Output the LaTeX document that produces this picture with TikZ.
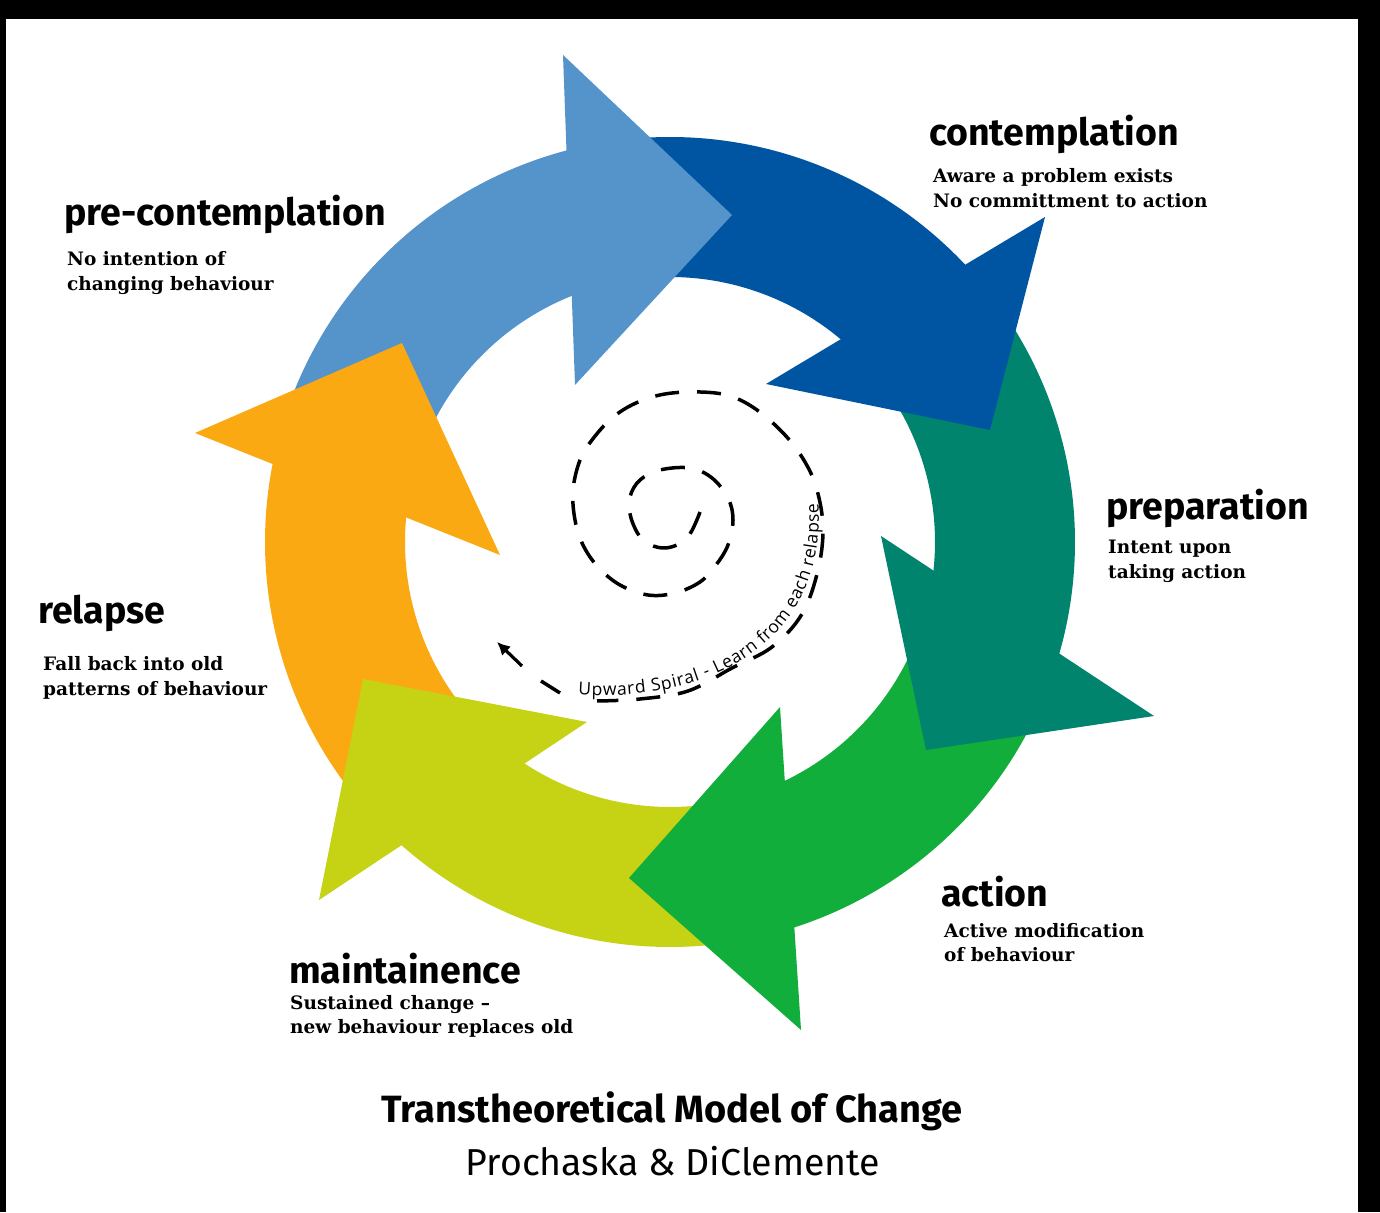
\documentclass[tikz,border=0pt]{standalone}
\usepackage{fontspec}
\setmainfont{DejaVu Serif}
\newfontfamily\headfont{Fira Sans}
\newfontfamily\spiralfont{Open Sans}
\usetikzlibrary{calc,decorations.text,arrows.meta}
\definecolor{lblue}{HTML}{5593CB}
\definecolor{dblue}{HTML}{0055A2}
\definecolor{tealc}{HTML}{00846E}
\definecolor{greenc}{HTML}{12AE3C}
\definecolor{limec}{HTML}{C6D214}
\definecolor{orangec}{HTML}{FBA913}
\newcommand\ringseg[3]{\fill[#1] ($(C)+(#2:405pt)$) arc[start angle=#2, end angle=#3, radius=405pt] -- ($(C)+(#3:265pt)$) arc[start angle=#3, end angle=#2, radius=265pt] -- cycle;}
\begin{document}
\begin{tikzpicture}[x=1pt,y=1pt,
  stagehead/.style={font=\headfont\bfseries\fontsize{37.5}{40}\selectfont, anchor=base west, inner sep=0pt},
  stagedesc/.style={font=\bfseries\fontsize{18.5}{22}\selectfont, anchor=base west, inner sep=0pt},
  spiralline/.style={line width=3.5pt, dash pattern=on 24pt off 18pt, black},
  ]
\useasboundingbox (0,0) rectangle (1380,1212);
\fill[black] (0,0) rectangle (1380,1212);
\fill[white] (6,0) rectangle (1358,1193);
\coordinate (C) at (670,670);
% bodies
\ringseg{lblue}{160.4}{102.4}
\ringseg{dblue}{96.3}{40.7}
\ringseg{tealc}{36.3}{-18.6}
\ringseg{greenc}{-22.1}{-74.7}
\ringseg{limec}{-80}{-133.9}
\ringseg{orangec}{221.1}{166.5}
% heads
\coordinate (lbA) at (563,1157); \coordinate (lbB) at (575,827); \coordinate (lbT) at (732,997);
\coordinate (dbA) at (1045,995); \coordinate (dbB) at (766,828); \coordinate (dbT) at (990,782);
\coordinate (teA) at (881,676); \coordinate (teB) at (1154,496); \coordinate (teT) at (926,462);
\coordinate (grA) at (780,505); \coordinate (grB) at (801,182); \coordinate (grT) at (629,334);
\coordinate (liA) at (587,490); \coordinate (liB) at (319,312); \coordinate (liT) at (363,533);
\coordinate (orA) at (195,779); \coordinate (orB) at (500,657); \coordinate (orT) at (402,869);
\fill[lblue] (lbA) -- (lbT) -- (lbB) -- cycle;
\fill[dblue] (dbA) -- (dbT) -- (dbB) -- cycle;
\fill[tealc] (teA) -- (teT) -- (teB) -- cycle;
\fill[greenc] (grA) -- (grT) -- (grB) -- cycle;
\fill[limec] (liA) -- (liT) -- (liB) -- cycle;
\fill[orangec] (orA) -- (orT) -- (orB) -- cycle;
% spiral
\coordinate (spLast) at (597,511);
\coordinate (dsA) at (560,519);
\coordinate (dsB) at (541,531);
\coordinate (arS) at (522,546);
\coordinate (spEnd) at (497,570);
\draw[spiralline] plot[smooth, tension=0.6] coordinates {
 (700,700) (687,674) (665,664) (643,672) (631,694) (630,715) (640,732) (660,742)
 (690,744) (712,734) (728,714) (733,692) (728,667) (716,647) (700,630) (675,619)
 (648,617) (620,627) (598,645) (583,667) (575,692) (573,722) (580,752) (592,772)
 (612,794) (636,809) (665,818) (700,820) (730,816) (757,802) (785,777) (805,750)
 (817,722) (823,684) (818,642) (802,598) (772,565) (732,544) (688,521) (640,513)
 (spLast)};
\draw[line width=3.5pt] (dsA) -- (dsB);
\draw[line width=3.2pt, -{Latex[length=13pt,width=13pt]}] (arS) -- (spEnd);
\coordinate (txS) at (578,514);
\coordinate (txE) at (822,708);
\path[decorate, decoration={text along path, text align=fit to path, raise=3.5pt,
  text={|\spiralfont\fontsize{17.5}{20}\selectfont|Upward Spiral - Learn from each relapse}}]
  (txS) .. controls (700,505) and (830,560) .. (txE);
% texts
\node[stagehead] (pre) at (64,986) {pre-contemplation};
\node[stagedesc] (pre1) at (67,946) {No intention of};
\node[stagedesc] (pre2) at (67,921) {changing behaviour};
\node[stagehead] (con) at (929,1066) {contemplation};
\node[stagedesc] (con1) at (933,1029) {Aware a problem exists};
\node[stagedesc] (con2) at (933,1004) {No committment to action};
\node[stagehead] (prep) at (1106,692) {preparation};
\node[stagedesc] (prep1) at (1108,658) {Intent upon};
\node[stagedesc] (prep2) at (1108,633) {taking action};
\node[stagehead] (rel) at (38,588) {relapse};
\node[stagedesc] (rel1) at (43,541) {Fall back into old};
\node[stagedesc] (rel2) at (43,516) {patterns of behaviour};
\node[stagehead] (act) at (941,305) {action};
\node[stagedesc] (act1) at (944,274) {Active modification};
\node[stagedesc] (act2) at (944,250) {of behaviour};
\node[stagehead] (mai) at (289,228) {maintainence};
\node[stagedesc] (mai1) at (290,202) {Sustained change –};
\node[stagedesc] (mai2) at (290,178) {new behaviour replaces old};
\node[font=\headfont\bfseries\fontsize{38}{42}\selectfont, anchor=base, inner sep=0pt] (title) at (672,90) {Transtheoretical Model of Change};
\node[font=\headfont\fontsize{37.5}{40}\selectfont, anchor=base, inner sep=0pt] (sub) at (673,37) {Prochaska \& DiClemente};
\end{tikzpicture}
\end{document}
